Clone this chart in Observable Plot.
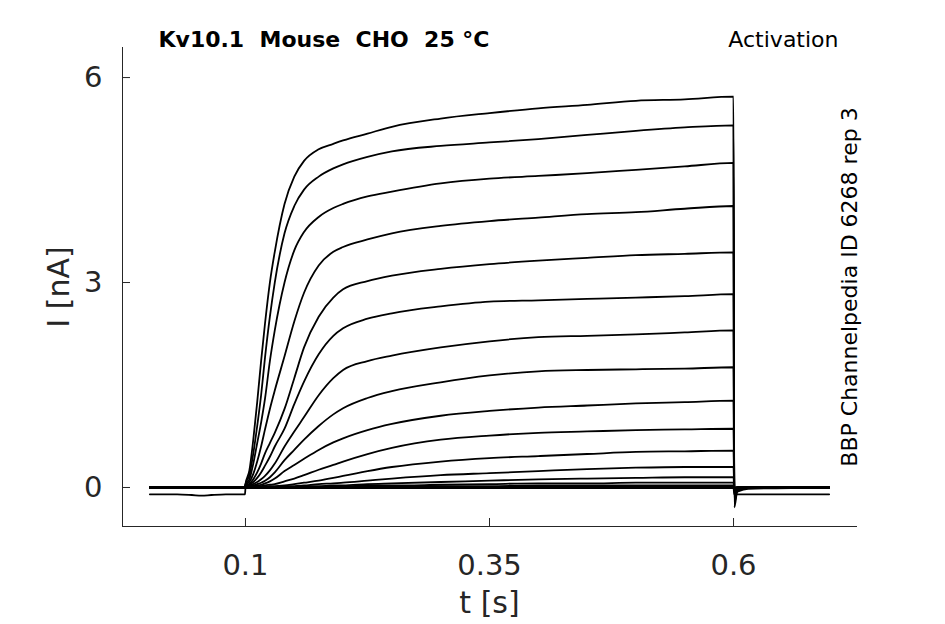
<!DOCTYPE html>
<html><head><meta charset="utf-8">
<script src="https://cdn.jsdelivr.net/npm/d3@7"></script>
<script src="https://cdn.jsdelivr.net/npm/@observablehq/plot@0.6"></script>
<style>
html,body{margin:0;padding:0;background:#fff;}
svg text{white-space:pre;}
</style></head><body><div id="chart"></div>
<script>
// ---- data ----
const xTicks = [0.1, 0.35, 0.6];
const yTicks = [0, 3, 6];

// holding period before the step (s)
const holdTimes = [0.002, 0.03, 0.045, 0.055, 0.065, 0.08, 0.0995];
const lowTraceHold = [-0.1, -0.1, -0.11, -0.12, -0.11, -0.1, -0.1];
const holdLevel = [0,0,0,0,0,0,0,0,0,0,0,0,0,0,0,0,0,-0.1];

// step period (s)
const pulseTimes = [0.1, 0.104, 0.108, 0.112, 0.116, 0.12, 0.125, 0.13, 0.14, 0.15, 0.16, 0.175, 0.19, 0.2, 0.225, 0.25, 0.3, 0.35, 0.4, 0.45, 0.5, 0.55, 0.6];
const trace01 = [0.05,0.25,0.7,1.25,1.85,2.4,3.0,3.45,4.15,4.55,4.78,4.95,5.03,5.08,5.18,5.28,5.4,5.48,5.55,5.6,5.66,5.68,5.72];
const trace02 = [0.05,0.18,0.5,0.9,1.35,1.9,2.5,3.0,3.72,4.12,4.36,4.55,4.67,4.73,4.84,4.92,5.0,5.05,5.1,5.16,5.22,5.27,5.3];
const trace03 = [0.04,0.12,0.35,0.65,0.95,1.3,1.85,2.3,3.0,3.47,3.74,3.96,4.09,4.15,4.26,4.33,4.45,4.52,4.56,4.6,4.65,4.7,4.75];
const trace04 = [0.03,0.08,0.2,0.38,0.6,0.85,1.15,1.42,1.92,2.43,2.85,3.25,3.45,3.52,3.63,3.72,3.83,3.9,3.95,4.0,4.03,4.08,4.12];
const trace05 = [0.02,0.05,0.12,0.22,0.35,0.5,0.65,0.8,1.15,1.6,2.05,2.5,2.78,2.9,3.02,3.1,3.2,3.27,3.32,3.36,3.4,3.42,3.44];
const trace06 = [0.02,0.04,0.08,0.14,0.22,0.32,0.45,0.6,0.86,1.22,1.55,1.95,2.22,2.33,2.47,2.55,2.65,2.72,2.74,2.76,2.78,2.8,2.83];
const trace07 = [0.01,0.03,0.05,0.08,0.12,0.17,0.25,0.35,0.6,0.82,1.03,1.35,1.6,1.72,1.85,1.93,2.05,2.14,2.2,2.22,2.24,2.27,2.3];
const trace08 = [0.01,0.02,0.03,0.05,0.07,0.1,0.15,0.22,0.4,0.55,0.7,0.9,1.07,1.16,1.31,1.41,1.54,1.64,1.7,1.72,1.73,1.74,1.76];
const trace09 = [0.01,0.01,0.02,0.03,0.04,0.06,0.09,0.13,0.24,0.33,0.42,0.55,0.66,0.72,0.84,0.93,1.05,1.12,1.17,1.2,1.23,1.25,1.27];
const trace10 = [0,0.01,0.01,0.02,0.02,0.03,0.04,0.05,0.09,0.13,0.18,0.26,0.33,0.38,0.49,0.58,0.7,0.76,0.8,0.82,0.84,0.85,0.86];
const trace11 = [0,0,0.01,0.01,0.01,0.01,0.02,0.02,0.03,0.05,0.07,0.1,0.14,0.17,0.24,0.3,0.38,0.43,0.46,0.49,0.52,0.53,0.54];
const trace12 = [0,0,0,0,0.01,0.01,0.01,0.01,0.02,0.02,0.03,0.05,0.06,0.07,0.1,0.13,0.18,0.21,0.24,0.27,0.29,0.3,0.3];
const trace13 = [0,0,0,0,0,0,0,0.01,0.01,0.01,0.02,0.02,0.03,0.03,0.05,0.06,0.08,0.1,0.12,0.13,0.14,0.15,0.15];
const trace14 = [0,0,0,0,0,0,0,0,0,0.01,0.01,0.01,0.02,0.02,0.03,0.03,0.04,0.05,0.06,0.06,0.07,0.07,0.07];
const trace15 = [0,0,0,0,0,0,0,0,0,0,0,0.01,0.01,0.01,0.01,0.02,0.02,0.02,0.03,0.03,0.03,0.03,0.03];
const trace16 = [0,0,0,0,0,0,0,0,0,0,0,0,0,0,0,0.01,0.01,0.01,0.01,0.01,0.01,0.01,0.01];
const trace17 = [0,0,0,0,0,0,0,0,0,0,0,0,0,0,0,0,0,0,0,0,0,0,0];
const trace18 = [-0.01,-0.01,-0.01,-0.01,-0.01,-0.01,-0.01,-0.01,-0.01,-0.01,-0.01,-0.01,-0.01,-0.01,-0.01,-0.01,-0.01,-0.01,-0.01,-0.01,-0.01,-0.01,-0.01];

// tail after the step (s)
const tailTimes = [0.6008, 0.604, 0.615, 0.698];
const tailValues = [
  [-0.29,-0.05,0,0],[-0.22,-0.04,0,0],[-0.18,-0.03,0,0],[-0.15,-0.03,0,0],
  [-0.12,-0.02,0,0],[-0.1,-0.02,0,0],[-0.08,-0.06,-0.02,0],[-0.06,-0.01,0,0],
  [-0.05,-0.01,0,0],[-0.04,0,0,0],[-0.03,0,0,0],[-0.02,0,0,0],
  [-0.02,0,0,0],[-0.01,0,0,0],[-0.01,0,0,0],[0,0,0,0],[0,0,0,0],[-0.1,-0.1,-0.1,-0.1]
];

const traces = [trace01,trace02,trace03,trace04,trace05,trace06,trace07,trace08,trace09,
                trace10,trace11,trace12,trace13,trace14,trace15,trace16,trace17,trace18];

const rows = [];
traces.forEach((vals, i) => {
  const hold = i === traces.length - 1 ? lowTraceHold : holdTimes.map(() => holdLevel[i]);
  holdTimes.forEach((t, j) => rows.push({trace: i + 1, t, I: hold[j]}));
  pulseTimes.forEach((t, j) => rows.push({trace: i + 1, t, I: vals[j]}));
  tailTimes.forEach((t, j) => rows.push({trace: i + 1, t, I: tailValues[i][j]}));
});

const axisColor = "#262626";
const chart = Plot.plot({
  width: 945, height: 624,
  marginLeft: 122, marginRight: 89, marginTop: 47, marginBottom: 98,
  style: {fontFamily: "DejaVu Sans", background: "#fff", color: axisColor},
  x: {domain: [-0.026, 0.726]},
  y: {domain: [-0.571, 6.44]},
  marks: [
    Plot.frame({anchor: "left", stroke: axisColor}),
    Plot.frame({anchor: "bottom", stroke: axisColor}),
    Plot.axisX(xTicks, {tickSize: -8, tickFormat: () => "", label: null, stroke: axisColor}),
    Plot.axisY(yTicks, {tickSize: -8, tickFormat: () => "", label: null, stroke: axisColor}),
    Plot.text(xTicks, {x: d => d, text: d => String(d), frameAnchor: "bottom", dy: 39, textAnchor: "middle", lineAnchor: "middle", fontSize: 29, fill: axisColor}),
    Plot.text(yTicks, {y: d => d, text: d => String(d), frameAnchor: "left", dx: -20, textAnchor: "end", lineAnchor: "middle", fontSize: 29, fill: axisColor}),
    Plot.text(["t [s]"], {text: d => d, frameAnchor: "bottom", dy: 77, textAnchor: "middle", lineAnchor: "middle", fontSize: 30, fill: axisColor}),
    Plot.text(["I [nA]"], {text: d => d, frameAnchor: "left", dx: -63, rotate: -90, textAnchor: "middle", lineAnchor: "middle", fontSize: 30, fill: axisColor}),
    Plot.text(["Kv10.1  Mouse  CHO  25 °C"], {text: d => d, frameAnchor: "top-left", dx: 36, dy: -8, textAnchor: "start", lineAnchor: "middle", fontWeight: "bold", fontSize: 22, fill: "#000"}),
    Plot.text(["Activation"], {text: d => d, frameAnchor: "top-right", dx: -18, dy: -8, textAnchor: "end", lineAnchor: "middle", fontSize: 22, fill: "#000"}),
    Plot.text(["BBP Channelpedia ID 6268 rep 3"], {text: d => d, frameAnchor: "right", dx: -7, rotate: -90, textAnchor: "middle", lineAnchor: "middle", fontSize: 22, fill: "#000"}),
    Plot.line(rows, {x: "t", y: "I", z: "trace", stroke: "#000", strokeWidth: 1.8, curve: "monotone-x"})
  ]
});
document.getElementById("chart").appendChild(chart);
</script>
</body></html>
